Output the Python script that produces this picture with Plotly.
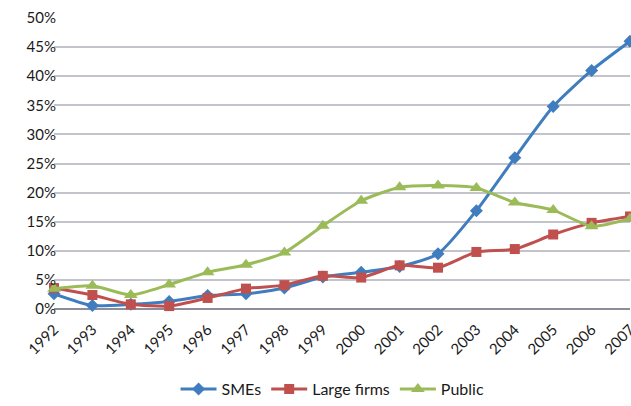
import plotly.graph_objects as go

years = list(range(1992, 2008))
smes = [2.6, 0.6, 0.8, 1.3, 2.3, 2.6, 3.6, 5.5, 6.3, 7.3, 9.5, 16.9, 26.0, 34.8, 41.0, 46.0]
large = [3.6, 2.4, 0.8, 0.5, 1.9, 3.5, 4.1, 5.7, 5.4, 7.5, 7.1, 9.8, 10.3, 12.8, 14.8, 15.9]
public = [3.5, 4.0, 2.4, 4.2, 6.3, 7.6, 9.7, 14.3, 18.6, 20.9, 21.2, 20.8, 18.3, 17.0, 14.2, 15.5]
y_ticks = [0, 5, 10, 15, 20, 25, 30, 35, 40, 45, 50]
y_labels = [f"{v}%" for v in y_ticks]

series = [
    ("SMEs", smes, "#3F7DBF", "diamond", 10),
    ("Large firms", large, "#C0504D", "square", 10),
    ("Public", public, "#9BBB59", "triangle-up", 12),
]

fig = go.Figure()
for name, vals, color, sym, size in series:
    fig.add_trace(go.Scatter(
        x=years, y=vals, name=name, mode="lines+markers",
        line=dict(color=color, width=3, shape="spline", smoothing=0.6),
        marker=dict(symbol=sym, size=size, color=color),
        cliponaxis=False,
    ))

fig.update_layout(
    width=631, height=406,
    margin=dict(l=54, r=1, t=18, b=97),
    paper_bgcolor="white", plot_bgcolor="white",
    font=dict(family="Lato, Liberation Sans, sans-serif", size=15, color="#1a1a1a"),
    showlegend=True,
    legend=dict(orientation="h", x=0.527, xanchor="center", xref="container",
                y=0.0, yanchor="bottom", yref="container",
                font=dict(size=16), itemwidth=36, tracegroupgap=0),
)
fig.update_xaxes(
    range=[1992, 2007], tickmode="array", tickvals=years, ticktext=[str(y) for y in years],
    tickangle=-45, showgrid=False, zeroline=False, showline=False,
    ticks="outside", ticklen=5, tickcolor="rgba(0,0,0,0)", automargin=False,
    ticklabeloverflow="allow",
)
fig.update_yaxes(
    range=[0, 50], tickmode="array", tickvals=y_ticks, ticktext=y_labels,
    showgrid=True, gridcolor="#C3C3CC", gridwidth=1.5,
    zeroline=True, zerolinecolor="#8C8C9A", zerolinewidth=2,
    showline=False, ticks="", ticklen=0, automargin=False, ticklabelstandoff=-3,
)
fig.write_html("out.html", config={"displayModeBar": False},
               post_script="document.body.style.margin='0';")
